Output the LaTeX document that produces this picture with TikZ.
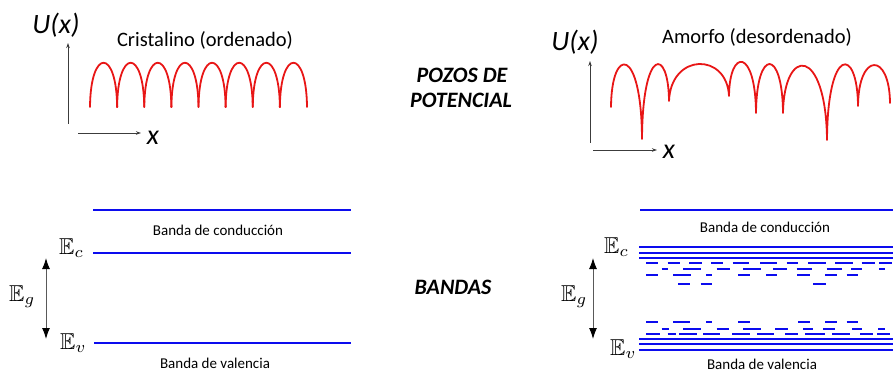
\documentclass[tikz,border=0pt]{standalone}
\usepackage{amssymb}
\usepackage{graphicx}
\usepackage{fontspec}
\setmainfont{Carlito}
\usetikzlibrary{arrows.meta}
\definecolor{bandblue}{RGB}{12,12,238}
\definecolor{wellred}{RGB}{232,22,22}
\definecolor{axisgray}{RGB}{60,60,60}
\newcommand{\bigE}[1]{\scalebox{2.3}{$\mathbb{E}_{#1}$}}
\tikzset{
  wellcurve/.style={draw=wellred, line width=1.8pt, line cap=round, line join=round},
  axisline/.style={draw=axisgray, line width=0.9pt, -{Stealth[length=5pt,width=3.5pt]}},
  ulabel/.style={inner sep=0pt, font=\fontsize{28}{32}\selectfont\itshape},
  titlelabel/.style={inner sep=0pt, font=\fontsize{20.5}{24}\selectfont},
  headlabel/.style={inner sep=0pt, font=\fontsize{22}{26}\selectfont\bfseries\itshape},
  bandlabel/.style={inner sep=0pt, font=\fontsize{15}{18}\selectfont},
  elabel/.style={inner sep=0pt, anchor=base west},
  bandline/.style={draw=bandblue, line width=2.2pt},
  stackline/.style={draw=bandblue, line width=2pt},
  dashline/.style={draw=bandblue, line width=1.8pt},
  gaparrow/.style={draw=gray!70!black, line width=1pt,
     {Latex[length=11pt,width=8pt,color=black]}-{Latex[length=11pt,width=8pt,color=black]}}
}
\begin{document}
\begin{tikzpicture}[x=1pt,y=-1pt]
\path[use as bounding box] (0,0) rectangle (893,374);

% ---------- Left: crystalline potential ----------
\node[ulabel] (U1) at (56,25) {U(x)};
\node[ulabel] (X1) at (153,138) {x};
\node[titlelabel] (T1) at (205,40) {Cristalino (ordenado)};
\coordinate (y1a) at (68,124); \coordinate (y1b) at (68,43);
\coordinate (x1a) at (78,133); \coordinate (x1b) at (141,133);
\draw[axisline] (y1a) -- (y1b);
\draw[axisline] (x1a) -- (x1b);
\foreach \i in {0,...,7}{
  \pgfmathsetmacro{\xa}{90+27.125*\i}
  \pgfmathsetmacro{\xb}{90+27.125*(\i+1)}
  \draw[wellcurve] (\xa,107) .. controls (\xa+0.5,48) and (\xb-0.5,48) .. (\xb,107);
}

% ---------- Middle headings ----------
\node[headlabel] (H1) at (462,75) {POZOS DE};
\node[headlabel] (H2) at (461,100) {POTENCIAL};
\node[headlabel] (H3) at (453,287) {BANDAS};

% ---------- Right: amorphous potential ----------
\node[ulabel] (U2) at (575,42) {U(x)};
\node[ulabel] (X2) at (669,152) {x};
\node[titlelabel] (T2) at (757,37) {Amorfo (desordenado)};
\coordinate (y2a) at (590,143); \coordinate (y2b) at (590,61);
\coordinate (x2a) at (593,150); \coordinate (x2b) at (657,150);
\draw[axisline] (y2a) -- (y2b);
\draw[axisline] (x2a) -- (x2b);
\draw[wellcurve]
  (611,107) .. controls (611.5,45.7) and (641.5,45.7) .. (642,139)
            .. controls (642.5,46.7) and (668.5,46.7) .. (669,101)
            .. controls (671,52.5) and (727,52.5) .. (729,96)
            .. controls (729.5,47.9) and (755.5,47.9) .. (756,113)
            .. controls (756.5,47.7) and (782.5,47.7) .. (783,113)
            .. controls (784,45.9) and (826,45.9) .. (827,140)
            .. controls (827.5,45.7) and (857.5,45.7) .. (858,106)
            .. controls (858.5,51.9) and (889.5,51.9) .. (890,103);

% ---------- Left bands ----------
\draw[bandline] (93,210) -- (351,210);
\draw[bandline] (93,253) -- (351,253);
\draw[bandline] (94,343) -- (351,343);
\node[bandlabel] (C1) at (218,230) {Banda de conducción};
\node[bandlabel] (V1) at (215,363) {Banda de valencia};
\node[elabel] (Ec1) at (59,254) {\bigE{c}};
\node[elabel] (Eg1) at (9,301.5) {\bigE{g}};
\node[elabel] (Ev1) at (60,349) {\bigE{v}};
\coordinate (g1a) at (46,258); \coordinate (g1b) at (46,339);
\draw[gaparrow] (g1a) -- (g1b);

% ---------- Right bands ----------
\draw[bandline] (640,210) -- (893,210);
\foreach \yy in {247.3,252.7,258}{ \draw[stackline] (639,\yy) -- (893,\yy); }
\foreach \yy in {339,344.3,349.7}{ \draw[stackline] (639,\yy) -- (893,\yy); }
% conduction tail states
\foreach \a/\b in {646/658.3,667.7/680,689.3/701.7,711/723.3,732.7/749.3,760/776.7,786.7/798.3,808.3/826,835/853.3,861.7/875,879.3/891.7}
  { \draw[dashline] (\a,263.3) -- (\b,263.3); }
\foreach \a/\b in {661.7/668.3,683.3/701,716.7/730,743.3/760.7,773.3/786.7,796.7/811.7,826.7/841.7,851/862.3,879.3/885}
  { \draw[dashline] (\a,269.3) -- (\b,269.3); }
\foreach \a/\b in {646/658.3,673.3/691,706/711.7,738.3/750,766/777.3,797.3/810,825/836.7,846.7/858.3}
  { \draw[dashline] (\a,274.7) -- (\b,274.7); }
\foreach \a/\b in {678.3/690,700.7/712.3,813.3/826}
  { \draw[dashline] (\a,284) -- (\b,284); }
% valence tail states
\foreach \a/\b in {646/658.3,673.3/690,706/711.7,738.3/750,798/810,825/836.7,846.7/858.3}
  { \draw[dashline] (\a,322.3) -- (\b,322.3); }
\foreach \a/\b in {661.7/669,683.3/701,716.7/729,743.3/761,775/788,803/813,823/835,852/862,878/885}
  { \draw[dashline] (\a,328.6) -- (\b,328.6); }
\foreach \a/\b in {646/660,667.7/676,679/697,703/720,732/750,757/774,785/798,805/825,832/850,860/873,877/890}
  { \draw[dashline] (\a,334) -- (\b,334); }
\node[bandlabel] (C2) at (765,227) {Banda de conducción};
\node[bandlabel] (V2) at (762,364) {Banda de valencia};
\node[elabel] (Ec2) at (604,253) {\bigE{c}};
\node[elabel] (Eg2) at (561,301.5) {\bigE{g}};
\node[elabel] (Ev2) at (610,355) {\bigE{v}};
\coordinate (g2a) at (593,258); \coordinate (g2b) at (593,339);
\draw[gaparrow] (g2a) -- (g2b);
\end{tikzpicture}
\end{document}
